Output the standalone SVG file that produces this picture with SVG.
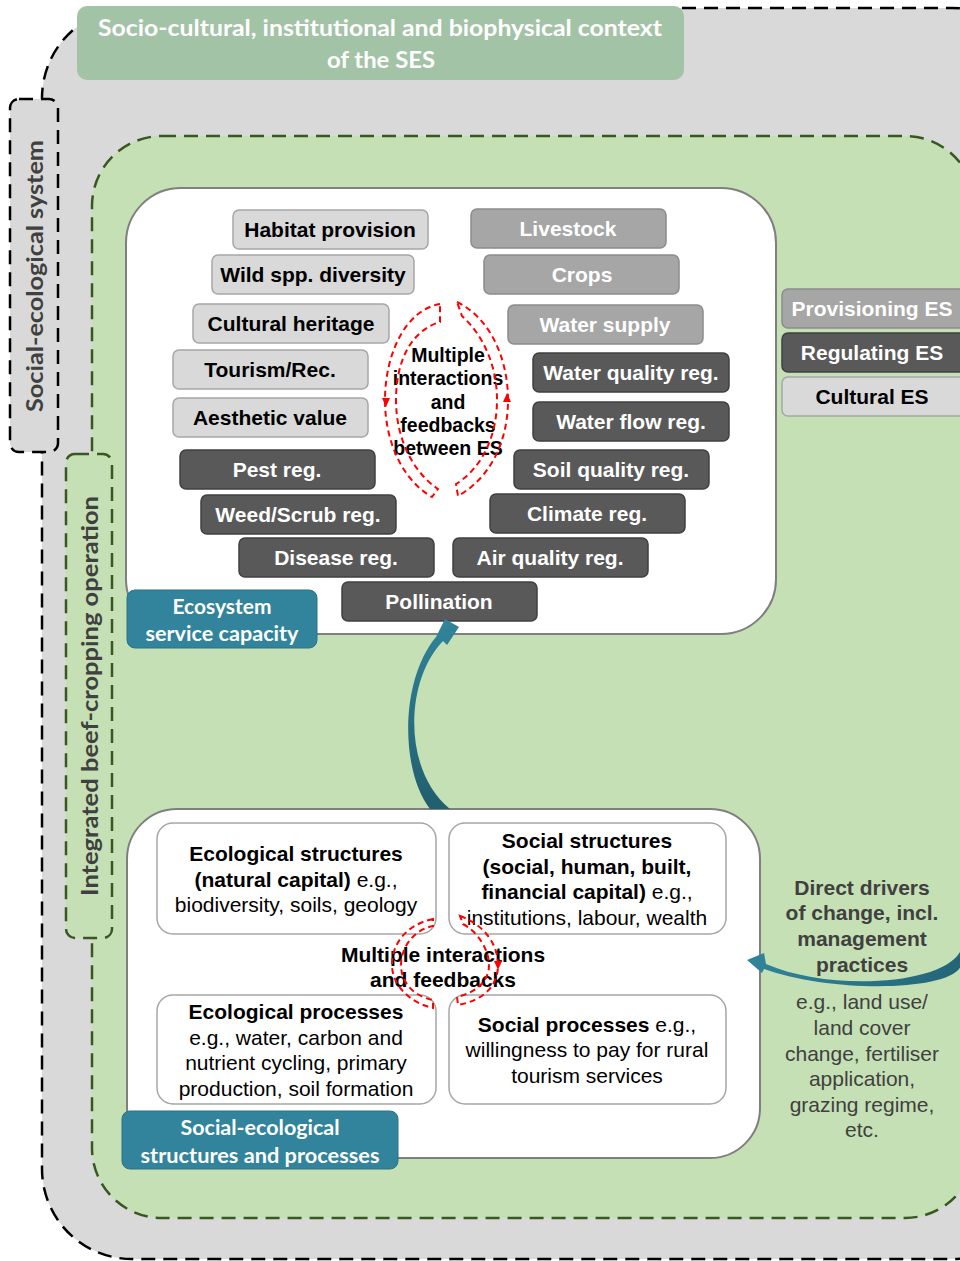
<svg xmlns="http://www.w3.org/2000/svg" width="960" height="1261" viewBox="0 0 960 1261">
<defs>
<style>
.es{font-family:"Liberation Sans",Arial,sans-serif;font-weight:bold;font-size:21px;text-anchor:middle}
.cul rect{fill:#d9d9d9;stroke:#a6a6a6;stroke-width:1.5}
.cul text{fill:#000}
.pro rect{fill:#a6a6a6;stroke:#8c8c8c;stroke-width:1.5}
.pro text{fill:#fff}
.reg rect{fill:#595959;stroke:#404040;stroke-width:1.5}
.reg text{fill:#fff}
.lbl{font-family:Lato,"Open Sans",sans-serif;font-weight:bold;text-anchor:middle}
.teal{fill:#31849b;stroke:#2a7287;stroke-width:1}
.box{fill:#fff;stroke:#a6a6a6;stroke-width:1.5}
.bt{font-family:"Liberation Sans",Arial,sans-serif;font-size:21px;text-anchor:middle;fill:#000}
.b{font-weight:bold}
.red{fill:none;stroke:#ff0000;stroke-width:2;stroke-dasharray:6 4}
.drv{font-family:"Liberation Sans",Arial,sans-serif;font-size:21px;text-anchor:middle;fill:#404040}
.mid{font-family:"Liberation Sans",Arial,sans-serif;font-weight:bold;font-size:19.5px;text-anchor:middle;fill:#000}
</style>
<linearGradient id="tg" x1="0" y1="0" x2="0" y2="1">
<stop offset="0" stop-color="#31849b"/>
<stop offset="1" stop-color="#215e6e"/>
</linearGradient>
<linearGradient id="tg2" x1="0" y1="0" x2="1" y2="0">
<stop offset="0" stop-color="#31849b"/>
<stop offset="1" stop-color="#236577"/>
</linearGradient>
</defs>

<!-- outer context -->
<g id="context">
<rect x="42" y="8" width="1000" height="1251" rx="90" fill="#d9d9d9" stroke="#000" stroke-width="2.5" stroke-dasharray="14 8"/>
</g>
<g id="ses-label">
<rect x="10" y="99" width="48" height="353" rx="9" fill="#d9d9d9" stroke="#000" stroke-width="2.5" stroke-dasharray="14 8"/>
<text class="lbl" transform="translate(43 276) rotate(-90)" font-size="22" fill="#404040" textLength="272" lengthAdjust="spacingAndGlyphs">Social-ecological system</text>
</g>
<g id="title">
<rect x="77" y="6" width="607" height="74" rx="10" fill="#a3c3a6"/>
<text class="lbl" x="380" y="36" font-size="22" fill="#fff" textLength="564" lengthAdjust="spacingAndGlyphs">Socio-cultural, institutional and biophysical context</text>
<text class="lbl" x="381" y="68" font-size="22" fill="#fff" textLength="108" lengthAdjust="spacingAndGlyphs">of the SES</text>
</g>

<!-- farm operation -->
<g id="operation">
<rect x="92" y="136" width="883" height="1082" rx="70" fill="#c5e0b4" stroke="#385723" stroke-width="2.5" stroke-dasharray="14 8"/>
</g>
<g id="op-label">
<rect x="66" y="454" width="46" height="484" rx="9" fill="#c5e0b4" stroke="#385723" stroke-width="2.5" stroke-dasharray="14 8"/>
<text class="lbl" transform="translate(98 696) rotate(-90)" font-size="22" fill="#404040" textLength="400" lengthAdjust="spacingAndGlyphs">Integrated beef-cropping operation</text>
</g>

<!-- ES capacity panel -->
<g id="es-panel">
<rect x="126" y="188" width="650" height="446" rx="55" fill="#fff" stroke="#7f7f7f" stroke-width="2"/>
</g>

<g class="es cul" id="habitat"><rect x="233" y="210" width="195" height="39" rx="6"/><text x="330" y="237">Habitat provision</text></g>
<g class="es cul" id="wildspp"><rect x="212" y="255" width="202" height="39" rx="6"/><text x="313" y="282">Wild spp. diversity</text></g>
<g class="es cul" id="heritage"><rect x="193" y="304" width="196" height="39" rx="6"/><text x="291" y="331">Cultural heritage</text></g>
<g class="es cul" id="tourism"><rect x="173" y="350" width="195" height="39" rx="6"/><text x="270" y="377">Tourism/Rec.</text></g>
<g class="es cul" id="aesthetic"><rect x="173" y="398" width="195" height="39" rx="6"/><text x="270" y="425">Aesthetic value</text></g>

<g class="es reg" id="pest"><rect x="180" y="450" width="195" height="39" rx="6"/><text x="277" y="477">Pest reg.</text></g>
<g class="es reg" id="weed"><rect x="201" y="495" width="195" height="39" rx="6"/><text x="298" y="522">Weed/Scrub reg.</text></g>
<g class="es reg" id="disease"><rect x="239" y="538" width="195" height="39" rx="6"/><text x="336" y="565">Disease reg.</text></g>
<g class="es reg" id="pollination"><rect x="342" y="582" width="195" height="39" rx="6"/><text x="439" y="609">Pollination</text></g>
<g class="es reg" id="airq"><rect x="453" y="538" width="195" height="39" rx="6"/><text x="550" y="565">Air quality reg.</text></g>
<g class="es reg" id="climate"><rect x="490" y="494" width="195" height="39" rx="6"/><text x="587" y="521">Climate reg.</text></g>
<g class="es reg" id="soilq"><rect x="514" y="450" width="195" height="39" rx="6"/><text x="611" y="477">Soil quality reg.</text></g>
<g class="es reg" id="waterflow"><rect x="533" y="402" width="196" height="39" rx="6"/><text x="631" y="429">Water flow reg.</text></g>
<g class="es reg" id="waterq"><rect x="533" y="353" width="196" height="39" rx="6"/><text x="631" y="380">Water quality reg.</text></g>

<g class="es pro" id="watersupply"><rect x="508" y="305" width="195" height="39" rx="6"/><text x="605" y="332">Water supply</text></g>
<g class="es pro" id="crops"><rect x="484" y="255" width="195" height="39" rx="6"/><text x="582" y="282">Crops</text></g>
<g class="es pro" id="livestock"><rect x="471" y="209" width="195" height="39" rx="6"/><text x="568" y="236">Livestock</text></g>

<g id="es-interactions">
<text class="mid"><tspan x="448" y="362">Multiple</tspan><tspan x="448" y="385">interactions</tspan><tspan x="448" y="409">and</tspan><tspan x="448" y="432">feedbacks</tspan><tspan x="448" y="455">between ES</tspan></text>
</g>

<g id="esc-label">
<rect class="teal" x="127" y="590" width="190" height="58" rx="8"/>
<text class="lbl" font-size="20" fill="#fff"><tspan x="222" y="614" textLength="99" lengthAdjust="spacingAndGlyphs">Ecosystem</tspan><tspan x="222" y="641" textLength="153" lengthAdjust="spacingAndGlyphs">service capacity</tspan></text>
</g>

<!-- legend -->
<g class="es pro" id="leg-prov"><rect x="782" y="289" width="210" height="39" rx="6"/><text x="872" y="316">Provisioning ES</text></g>
<g class="es reg" id="leg-reg"><rect x="782" y="333" width="210" height="39" rx="6"/><text x="872" y="360">Regulating ES</text></g>
<g class="es cul" id="leg-cul"><rect x="782" y="377" width="210" height="39" rx="6"/><text x="872" y="404">Cultural ES</text></g>

<!-- social-ecological panel -->
<g id="se-panel">
<rect x="127" y="809" width="633" height="349" rx="50" fill="#fff" stroke="#7f7f7f" stroke-width="2"/>
</g>
<g id="eco-struct">
<rect class="box" x="157" y="823" width="279" height="111" rx="16"/>
<text class="bt"><tspan x="296" y="861" class="b">Ecological structures</tspan><tspan x="296" y="887"><tspan class="b">(natural capital)</tspan> e.g.,</tspan><tspan x="296" y="912">biodiversity, soils, geology</tspan></text>
</g>
<g id="soc-struct">
<rect class="box" x="449" y="823" width="277" height="111" rx="16"/>
<text class="bt"><tspan x="587" y="848" class="b">Social structures</tspan><tspan x="587" y="874" class="b">(social, human, built,</tspan><tspan x="587" y="899"><tspan class="b">financial capital)</tspan> e.g.,</tspan><tspan x="587" y="925">institutions, labour, wealth</tspan></text>
</g>
<g id="eco-proc">
<rect class="box" x="157" y="995" width="279" height="109" rx="16"/>
<text class="bt"><tspan x="296" y="1019" class="b">Ecological processes</tspan><tspan x="296" y="1045">e.g., water, carbon and</tspan><tspan x="296" y="1070">nutrient cycling, primary</tspan><tspan x="296" y="1096">production, soil formation</tspan></text>
</g>
<g id="soc-proc">
<rect class="box" x="449" y="995" width="277" height="109" rx="16"/>
<text class="bt"><tspan x="587" y="1032"><tspan class="b">Social processes</tspan> e.g.,</tspan><tspan x="587" y="1057">willingness to pay for rural</tspan><tspan x="587" y="1083">tourism services</tspan></text>
</g>
<g id="se-interactions">
<text class="bt b"><tspan x="443" y="962">Multiple interactions</tspan><tspan x="443" y="987">and feedbacks</tspan></text>
</g>
<g id="se-label">
<rect class="teal" x="122" y="1111" width="276" height="58" rx="8"/>
<text class="lbl" font-size="20" fill="#fff"><tspan x="260" y="1135" textLength="159" lengthAdjust="spacingAndGlyphs">Social-ecological</tspan><tspan x="260" y="1163" textLength="239" lengthAdjust="spacingAndGlyphs">structures and processes</tspan></text>
</g>

<!-- drivers text -->
<g id="drivers">
<text class="drv b"><tspan x="862" y="895">Direct drivers</tspan><tspan x="862" y="920">of change, incl.</tspan><tspan x="862" y="946">management</tspan><tspan x="862" y="972">practices</tspan></text>
<text class="drv"><tspan x="862" y="1009">e.g., land use/</tspan><tspan x="862" y="1035">land cover</tspan><tspan x="862" y="1061">change, fertiliser</tspan><tspan x="862" y="1086">application,</tspan><tspan x="862" y="1112">grazing regime,</tspan><tspan x="862" y="1137">etc.</tspan></text>
</g>

<!-- connectors -->
<g id="connectors">
<path class="red" d="M440,304 C405,310 385,355 385,400 C385,445 405,482 432,497 L438,489 C414,473 396,440 396,400 C396,360 412,330 440,322 Z"/>
<path class="red" d="M457,302 C490,318 508,358 508,400 C508,442 490,478 458,496 L456,484 C482,468 497,436 497,400 C497,364 482,334 462,316 Z"/>
<polygon points="382,398 390,398 386,407" fill="#ff0000"/>
<polygon points="503,402 511,402 507,393" fill="#ff0000"/>
<path class="red" d="M433,919 C405,925 392,945 392,965 C392,985 410,1003 433,1008 L433,1000 C413,996 401,982 401,965 C401,948 413,930 433,926 Z"/>
<path class="red" d="M460,916 C485,925 498,945 498,965 C498,985 485,1000 458,1005 L457,997 C478,992 489,980 489,965 C489,950 478,932 463,924 Z"/>
<polygon points="494,961 502,961 498,970" fill="#ff0000"/>
<path d="M430,809 C400,770 400,680 436,637 L445,619 L459,627 L447,645 L443,641 C405,680 402,770 450,809 Z" fill="url(#tg)"/>
<path d="M961,950 C945,985 830,992 766,964 L764,953 L747,960 L762,973 L764,969 C830,993 950,992 961,966 Z" fill="url(#tg2)"/>
</g>
</svg>
